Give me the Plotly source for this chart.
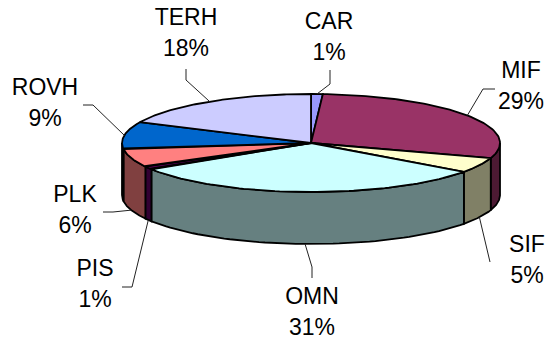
import numpy as np
import plotly.graph_objects as go

# Share of each category, clockwise from twelve o'clock
categories = ["CAR", "MIF", "SIF", "OMN", "PIS", "PLK", "ROVH", "TERH"]
shares = [1, 29, 5, 31, 1, 6, 9, 18]

top_colors = ["#9999FF", "#993366", "#FFFFCC", "#CCFFFF", "#660066", "#FF8080", "#0066CC", "#CCCCFF"]
wall_colors = ["#4D4D80", "#4D1A33", "#808066", "#668080", "#330033", "#804040", "#003366", "#666680"]

# Projection of the tilted disc onto the page
CX, CY = 311.0, 143.0
RX, RY = 189.0, 49.0
DEPTH = 52.0

# Leader elbows and label centres, in page pixels, per category
elbows = {
    "CAR": [(330, 84), (330, 70)],
    "MIF": [(483, 89), (495, 89)],
    "SIF": [(490, 262)],
    "OMN": [(312, 267), (312, 278)],
    "PIS": [(132, 287), (122, 287)],
    "PLK": [(113, 212), (103, 212)],
    "ROVH": [(93, 105), (83, 105)],
    "TERH": [(186, 80), (186, 69)],
}
label_centres = {
    "CAR": (329, 23),
    "MIF": (521, 72),
    "SIF": (527, 246),
    "OMN": (312, 298),
    "PIS": (95, 270),
    "PLK": (75, 196),
    "ROVH": (45, 89),
    "TERH": (186, 19),
}
LINE_GAP = 31


def rim(angle_deg, drop=0.0):
    t = np.radians(angle_deg)
    return CX + RX * np.sin(t), CY - RY * np.cos(t) + drop


fractions = np.cumsum([0] + shares) / sum(shares) * 360.0
fig = go.Figure()


def polygon(xs, ys, fill, width=1.8):
    fig.add_trace(go.Scatter(
        x=xs, y=ys, mode="lines", fill="toself", fillcolor=fill,
        line=dict(color="black", width=width), hoverinfo="skip", showlegend=False,
    ))


# Side walls: only the front half of the disc is visible
for i in range(len(categories)):
    start, end = max(fractions[i], 90.0), min(fractions[i + 1], 270.0)
    if end <= start:
        continue
    arc = np.linspace(start, end, 60)
    x_top, y_top = rim(arc)
    x_bot, y_bot = rim(arc[::-1], DEPTH)
    polygon(np.r_[x_top, x_bot, x_top[0]], np.r_[y_top, y_bot, y_top[0]], wall_colors[i])

# Top faces
for i in range(len(categories)):
    arc = np.linspace(fractions[i], fractions[i + 1], 80)
    x_arc, y_arc = rim(arc)
    polygon(np.r_[CX, x_arc, CX], np.r_[CY, y_arc, CY], top_colors[i])

# Leader lines start on the outer edge at the middle of each slice
for i, name in enumerate(categories):
    mid = (fractions[i] + fractions[i + 1]) / 2
    x0, y0 = rim(mid, DEPTH if 90 < mid < 270 else 0.0)
    pts = [(x0, y0)] + elbows[name]
    fig.add_trace(go.Scatter(
        x=[p[0] for p in pts], y=[p[1] for p in pts], mode="lines",
        line=dict(color="#222222", width=1), hoverinfo="skip", showlegend=False,
    ))

# Two-line labels: category name above its percentage
label_x = [label_centres[c][0] for c in categories]
label_y = [label_centres[c][1] for c in categories]
font = dict(family="Liberation Sans, Arial, sans-serif", size=23, color="black")
fig.add_trace(go.Scatter(
    x=label_x, y=label_y, mode="text", text=categories,
    textposition="middle center", textfont=font, hoverinfo="skip", showlegend=False,
))
fig.add_trace(go.Scatter(
    x=label_x, y=[y + LINE_GAP for y in label_y], mode="text",
    text=[f"{v}%" for v in shares],
    textposition="middle center", textfont=font, hoverinfo="skip", showlegend=False,
))

fig.update_layout(
    width=546, height=340, margin=dict(l=0, r=0, t=0, b=0),
    paper_bgcolor="white", plot_bgcolor="white",
    xaxis=dict(range=[0, 546], visible=False, fixedrange=True),
    yaxis=dict(range=[340, 0], visible=False, fixedrange=True),
)
fig.write_html("out.html", config={"displayModeBar": False})
